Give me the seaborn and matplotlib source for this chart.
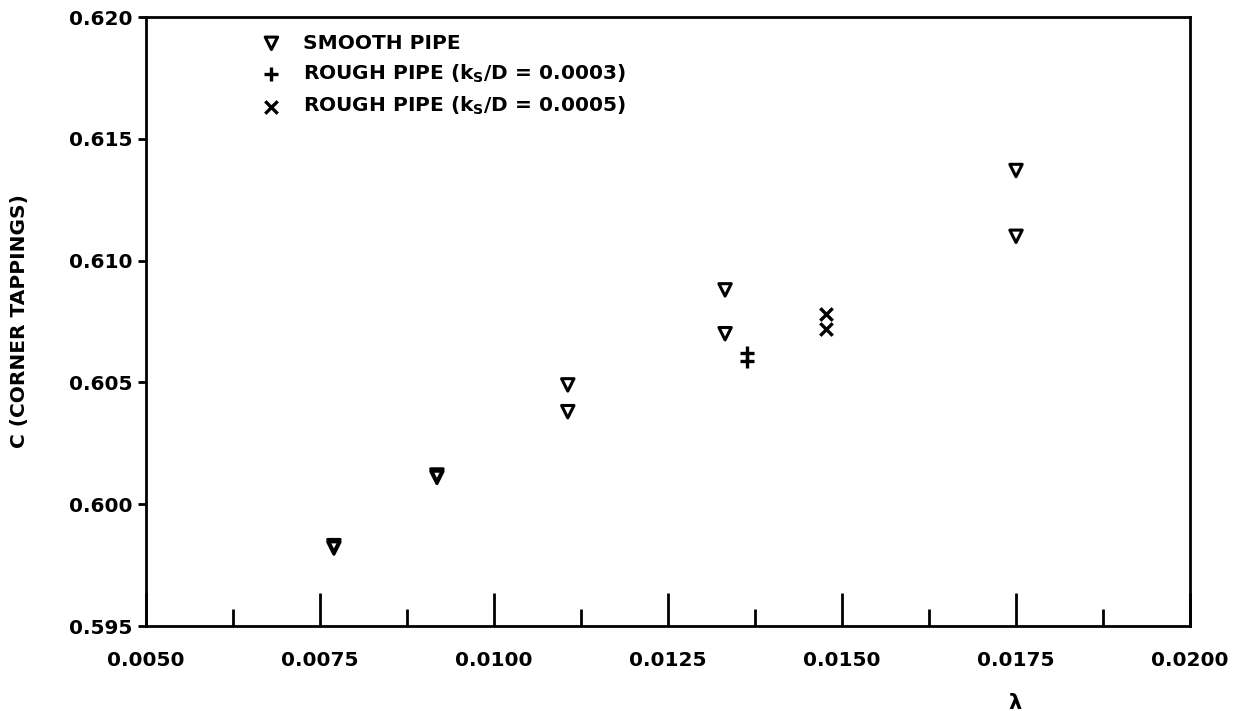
import matplotlib
matplotlib.use("Agg")
import matplotlib.pyplot as plt
from matplotlib.ticker import MultipleLocator
import numpy as np
import pandas as pd
import seaborn as sns

# Discharge coefficient (corner tappings) against friction factor lambda
smooth_lambda = [0.00770, 0.00770, 0.00918, 0.00918, 0.01106, 0.01106,
                 0.01332, 0.01332, 0.01750, 0.01750]
smooth_c = [0.5982, 0.5983, 0.6012, 0.6011, 0.6049, 0.6038,
            0.6088, 0.6070, 0.6137, 0.6110]

rough3_lambda = [0.01363, 0.01363]
rough3_c = [0.6062, 0.6059]

rough5_lambda = [0.01477, 0.01477]
rough5_c = [0.6078, 0.6072]

series_labels = [
    "SMOOTH PIPE",
    r"ROUGH PIPE (k$_\mathregular{S}$/D = 0.0003)",
    r"ROUGH PIPE (k$_\mathregular{S}$/D = 0.0005)",
]

x_ticks = [0.0050, 0.0075, 0.0100, 0.0125, 0.0150, 0.0175, 0.0200]
y_ticks = [0.595, 0.600, 0.605, 0.610, 0.615, 0.620]

sns.set_style("white")
plt.rcParams["font.family"] = ["DejaVu Sans"]
plt.rcParams["font.weight"] = "bold"
plt.rcParams["mathtext.default"] = "regular"
for key in ["text.color", "axes.labelcolor", "xtick.color", "ytick.color"]:
    plt.rcParams[key] = "black"

fig = plt.figure(figsize=(12.52, 7.11), dpi=100)
ax = fig.add_axes([0.1166, 0.1195, 0.8339, 0.8565])

df_s = pd.DataFrame({"lam": smooth_lambda, "c": smooth_c})
df_r3 = pd.DataFrame({"lam": rough3_lambda, "c": rough3_c})
df_r5 = pd.DataFrame({"lam": rough5_lambda, "c": rough5_c})

sns.scatterplot(data=df_s, x="lam", y="c", ax=ax, marker="v", s=80,
                color="black", facecolor="none", edgecolor="black",
                linewidth=2.2, label=series_labels[0])
sns.scatterplot(data=df_r3, x="lam", y="c", ax=ax, marker="+", s=110,
                color="black", linewidth=2.4, label=series_labels[1])
sns.scatterplot(data=df_r5, x="lam", y="c", ax=ax, marker="x", s=80,
                color="black", linewidth=2.4, label=series_labels[2])

ax.set_xlim(x_ticks[0], x_ticks[-1])
ax.set_ylim(y_ticks[0], y_ticks[-1])
ax.set_xticks(x_ticks)
ax.set_xticklabels([f"{v:.4f}" for v in x_ticks])
ax.set_yticks(y_ticks)
ax.set_yticklabels([f"{v:.3f}" for v in y_ticks])
ax.xaxis.set_minor_locator(MultipleLocator(0.00125))

ax.tick_params(axis="x", which="major", direction="in", length=24, width=2,
               labelsize=14.5, pad=18, color="black", bottom=True)
ax.tick_params(axis="x", which="minor", direction="in", length=12, width=2,
               bottom=True)
ax.tick_params(axis="y", which="major", direction="out", length=6, width=2,
               labelsize=14.5, pad=4, color="black", left=True)

for side in ["left", "right", "top", "bottom"]:
    ax.spines[side].set_visible(True)
    ax.spines[side].set_color("black")
    ax.spines[side].set_linewidth(2)

ax.set_xlabel("λ", fontsize=15, fontweight="bold")
ax.xaxis.set_label_coords(0.832, -0.11)
ax.set_ylabel("C (CORNER TAPPINGS)", fontsize=14.5, fontweight="bold")
ax.yaxis.set_label_coords(-0.112, 0.5)

leg = ax.legend(loc="upper left", bbox_to_anchor=(0.097, 0.996), frameon=False,
                fontsize=14.5, handlelength=1.0, handletextpad=1.05,
                labelspacing=0.5, borderaxespad=0.3)
for t in leg.get_texts():
    t.set_fontweight("bold")

fig.savefig("out.png", dpi=100, facecolor="white")
